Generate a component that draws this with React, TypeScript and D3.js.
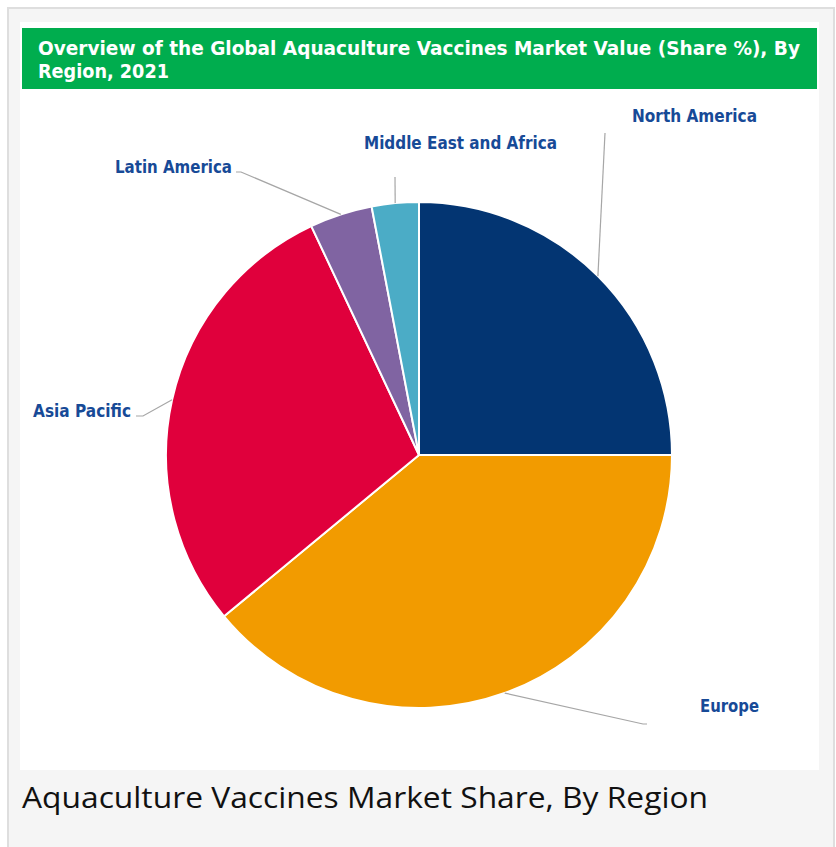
import React from "react";
import * as d3 from "d3";

const regions = ["North America", "Europe", "Asia Pacific", "Latin America", "Middle East and Africa"];
const shares = [25, 39, 29, 4, 3];
const colors = ["#033572", "#f29b00", "#e0003c", "#8064a2", "#4bacc6"];

const titleLines = ["Overview of the Global Aquaculture Vaccines Market Value (Share %), By", "Region, 2021"];
const caption = "Aquaculture Vaccines Market Share, By Region";

// label layout: elbow points, end points, text anchor (start x, baseline), text width
const labelLayout: Record<string, { elbow: [number, number]; end: [number, number]; text: [number, number]; w: number }> = {
  "North America": { elbow: [605, 133], end: [605, 133], text: [632, 122], w: 125 },
  "Middle East and Africa": { elbow: [395, 177], end: [395, 177], text: [364, 149], w: 193 },
  "Latin America": { elbow: [241, 172], end: [236, 172], text: [115, 173], w: 117 },
  "Asia Pacific": { elbow: [143, 416], end: [136, 416], text: [33, 417], w: 98 },
  "Europe": { elbow: [643, 724], end: [647, 724], text: [700, 712], w: 59 },
};

export default function App() {
  const W = 836, H = 847;
  const cx = 419, cy = 455, R = 253;
  const pie = d3.pie<number>().sort(null).value((d) => d);
  const arcs = pie(shares);
  const arc = d3.arc<d3.PieArcDatum<number>>().innerRadius(0).outerRadius(R);

  return (
    <div style={{ position: "absolute", left: 0, top: 0, width: W, height: H }}>
      <svg width={W} height={H} style={{ display: "block" }}>
        <rect x={0} y={0} width={W} height={H} fill="#ffffff" />
        <rect x={8} y={8} width={826} height={850} fill="#f5f5f5" stroke="#dedede" strokeWidth={2} />
        <rect x={20} y={22} width={799} height={748} fill="#ffffff" />
        <rect x={22} y={28} width={795} height={61} fill="#00ad4e" />
        {titleLines.map((t, i) => (
          <text
            key={i}
            x={38}
            y={54.5 + i * 23.5}
            fill="#ffffff"
            fontFamily="'DejaVu Sans', sans-serif"
            fontWeight="bold"
            fontSize={19}
            textLength={i === 0 ? 762 : 131}
            lengthAdjust="spacingAndGlyphs"
          >
            {t}
          </text>
        ))}
        <g transform={`translate(${cx},${cy})`}>
          {arcs.map((a, i) => (
            <path key={i} d={arc(a) || ""} fill={colors[i]} stroke="#ffffff" strokeWidth={2} strokeLinejoin="round" />
          ))}
        </g>
        {arcs.map((a, i) => {
          const name = regions[i];
          const L = labelLayout[name];
          const mid = (a.startAngle + a.endAngle) / 2;
          const sx = cx + R * Math.sin(mid);
          const sy = cy - R * Math.cos(mid);
          const pts = `${sx},${sy} ${L.elbow[0]},${L.elbow[1]} ${L.end[0]},${L.end[1]}`;
          return (
            <g key={name}>
              <polyline points={pts} fill="none" stroke="#a6a6a6" strokeWidth={1.2} />
              <text
                x={L.text[0]}
                y={L.text[1]}
                fill="#174a97"
                fontFamily="'DejaVu Sans', sans-serif"
                fontWeight="bold"
                fontSize={17.5}
                textLength={L.w}
                lengthAdjust="spacingAndGlyphs"
              >
                {name}
              </text>
            </g>
          );
        })}
        <text
          x={22}
          y={808}
          fill="#111111"
          fontFamily="'Open Sans', sans-serif"
          fontSize={29}
          textLength={686}
          lengthAdjust="spacingAndGlyphs"
        >
          {caption}
        </text>
      </svg>
    </div>
  );
}
